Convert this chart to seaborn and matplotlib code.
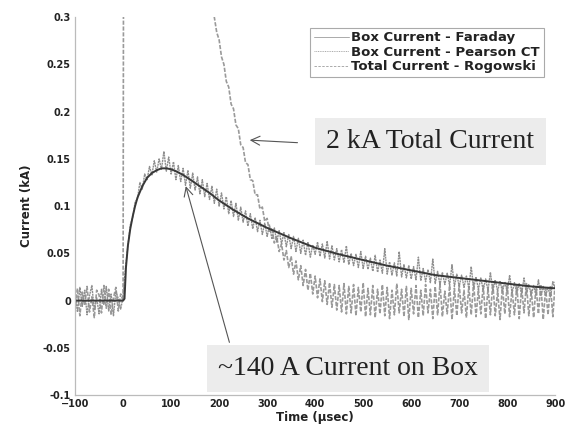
import numpy as np
import pandas as pd
import matplotlib
matplotlib.use('Agg')
import matplotlib.pyplot as plt
from matplotlib.ticker import FuncFormatter
from matplotlib.lines import Line2D
import seaborn as sns

# Time grid of the sampled traces (usec), 5 usec apart
time_us = np.arange(-100, 905, 5)

# Box current - Pearson CT (kA)
pearson_ka = [
    0.008, -0.012, 0.014, -0.006, 0.011, -0.015, 0.005, 0.016, -0.010, 0.003,
    -0.014, 0.012, -0.004, 0.015, -0.011, 0.007, -0.016, 0.010, 0.002, -0.009,
    0.004, 0.035, 0.058, 0.080, 0.088, 0.104, 0.108, 0.125, 0.118, 0.134,
    0.128, 0.142, 0.133, 0.148, 0.136, 0.150, 0.139, 0.158, 0.137, 0.152,
    0.134, 0.147, 0.128, 0.143, 0.126, 0.140, 0.122, 0.138, 0.119, 0.135,
    0.117, 0.131, 0.113, 0.128, 0.110, 0.124, 0.107, 0.121, 0.103, 0.118,
    0.100, 0.114, 0.097, 0.110, 0.092, 0.106, 0.089, 0.103, 0.085, 0.099,
    0.083, 0.095, 0.079, 0.092, 0.076, 0.088, 0.073, 0.085, 0.070, 0.082,
    0.068, 0.080, 0.065, 0.077, 0.062, 0.074, 0.060, 0.072, 0.057, 0.070,
    0.055, 0.068, 0.052, 0.066, 0.050, 0.064, 0.048, 0.062, 0.046, 0.059,
    0.049, 0.062, 0.047, 0.060, 0.045, 0.063, 0.044, 0.058, 0.043, 0.055,
    0.041, 0.054, 0.040, 0.058, 0.038, 0.050, 0.037, 0.049, 0.035, 0.052,
    0.034, 0.047, 0.033, 0.045, 0.031, 0.048, 0.030, 0.043, 0.029, 0.055,
    0.028, 0.041, 0.027, 0.040, 0.026, 0.052, 0.025, 0.038, 0.024, 0.037,
    0.023, 0.036, 0.022, 0.046, 0.021, 0.034, 0.020, 0.033, 0.019, 0.044,
    0.018, 0.031, 0.017, 0.030, 0.017, 0.029, 0.016, 0.038, 0.015, 0.028,
    0.015, 0.027, 0.014, 0.026, 0.013, 0.036, 0.013, 0.025, 0.012, 0.024,
    0.011, 0.023, 0.011, 0.030, 0.010, 0.022, 0.010, 0.021, 0.009, 0.020,
    0.009, 0.027, 0.008, 0.019, 0.008, 0.018, 0.007, 0.024, 0.007, 0.017,
    0.006, 0.016, 0.006, 0.022, 0.005, 0.015, 0.005, 0.014, 0.004, 0.020,
    0.012,
]

# Total current - Rogowski (kA); peaks near 2 kA, off the top of the axes
rogowski_ka = [
    -0.010, 0.013, -0.016, 0.009, -0.005, 0.015, -0.012, 0.004, -0.018, 0.011,
    0.006, -0.013, 0.016, -0.008, 0.012, -0.015, 0.003, 0.014, -0.011, 0.007,
    0.000, 2.00, 1.95, 1.89, 1.82, 1.75, 1.68, 1.61, 1.54, 1.47,
    1.40, 1.33, 1.27, 1.21, 1.15, 1.09, 1.04, 0.99, 0.94, 0.89,
    0.85, 0.81, 0.77, 0.73, 0.69, 0.66, 0.62, 0.59, 0.56, 0.53,
    0.51, 0.48, 0.46, 0.43, 0.41, 0.39, 0.36, 0.33, 0.300, 0.284,
    0.276, 0.258, 0.250, 0.232, 0.226, 0.208, 0.203, 0.186, 0.182, 0.165,
    0.162, 0.146, 0.144, 0.128, 0.127, 0.112, 0.112, 0.097, 0.099, 0.084,
    0.087, 0.072, 0.077, 0.061, 0.068, 0.052, 0.060, 0.043, 0.053, 0.035,
    0.047, 0.028, 0.042, 0.022, 0.037, 0.016, 0.033, 0.011, 0.029, 0.007,
    0.026, 0.003, 0.023, -0.001, 0.021, -0.004, 0.019, -0.007, 0.017, -0.010,
    0.016, -0.012, 0.018, -0.014, 0.015, -0.013, 0.017, -0.016, 0.014, -0.012,
    0.019, -0.017, 0.013, -0.015, 0.016, -0.018, 0.012, -0.014, 0.017, -0.016,
    0.014, -0.019, 0.011, -0.015, 0.018, -0.013, 0.012, -0.017, 0.015, -0.020,
    0.013, -0.014, 0.016, -0.018, 0.011, -0.016, 0.017, -0.013, 0.012, -0.019,
    0.015, -0.015, 0.018, -0.017, 0.010, -0.014, 0.016, -0.020, 0.013, -0.016,
    0.017, -0.013, 0.011, -0.018, 0.015, -0.015, 0.019, -0.017, 0.012, -0.014,
    0.016, -0.019, 0.013, -0.015, 0.018, -0.016, 0.010, -0.020, 0.015, -0.014,
    0.017, -0.017, 0.012, -0.015, 0.016, -0.019, 0.014, -0.013, 0.018, -0.016,
    0.011, -0.018, 0.015, -0.014, 0.017, -0.020, 0.013, -0.015, 0.016, -0.017,
    0.020,
]

# Box current - Faraday (smooth trace)
faraday_us = [-100, 0, 3, 6, 10, 15, 20, 25, 30, 40, 50, 60, 70, 80, 90, 100,
              110, 125, 140, 160, 180, 200, 230, 260, 300, 350, 400, 450, 500,
              550, 600, 650, 700, 750, 800, 850, 900]
faraday_ka = [0.0, 0.0, 0.002, 0.035, 0.058, 0.076, 0.089, 0.100, 0.109, 0.121,
              0.130, 0.135, 0.138, 0.140, 0.140, 0.139, 0.137, 0.133, 0.128,
              0.121, 0.114, 0.106, 0.096, 0.087, 0.077, 0.066, 0.056, 0.049,
              0.043, 0.037, 0.032, 0.027, 0.024, 0.021, 0.018, 0.015, 0.013]

y_ticks = [-0.1, -0.05, 0, 0.05, 0.1, 0.15, 0.2, 0.25, 0.3]
x_ticks = list(range(-100, 1000, 100))

sns.set_style('white')
plt.rcParams['font.family'] = ['DejaVu Sans']
plt.rcParams['font.weight'] = 'bold'

fig = plt.figure(figsize=(5.73, 4.29), dpi=100)
ax = fig.add_axes([0.131, 0.079, 0.838, 0.881])

sns.lineplot(x=time_us, y=rogowski_ka, ax=ax, color='#9a9a9a', lw=1.2,
             linestyle=(0, (2.5, 1)), estimator=None, sort=False)
sns.lineplot(x=time_us, y=pearson_ka, ax=ax, color='#8f8f8f', lw=1.0,
             linestyle=(0, (1.5, 0.5)), estimator=None, sort=False)
sns.lineplot(x=faraday_us, y=faraday_ka, ax=ax, color='#383838', lw=1.4,
             estimator=None, sort=False)

ax.set_xlim(-100, 900)
ax.set_ylim(-0.1, 0.3)
ax.set_xticks(x_ticks)
ax.set_yticks(y_ticks)
ax.yaxis.set_major_formatter(FuncFormatter(lambda v, p: '%g' % round(v, 3)))
ax.tick_params(direction='in', length=4, color='#aaaaaa', labelsize=7,
               labelcolor='#222222', pad=3)
for lab in ax.get_xticklabels() + ax.get_yticklabels():
    lab.set_fontweight('bold')
for side in ['top', 'right']:
    ax.spines[side].set_visible(False)
for side in ['left', 'bottom']:
    ax.spines[side].set_color('#bbbbbb')
    ax.spines[side].set_linewidth(0.9)

ax.set_xlabel('Time (\u00b5sec)', fontsize=8.5, fontweight='bold', color='#222222', labelpad=1)
ax.set_ylabel('Current (kA)', fontsize=8.5, fontweight='bold', color='#222222', labelpad=7)

# legend with thin light handles, as in the reference
handles = [Line2D([], [], color='#aaaaaa', lw=0.7),
           Line2D([], [], color='#aaaaaa', lw=0.7, linestyle=(0, (1, 0.8))),
           Line2D([], [], color='#aaaaaa', lw=0.7, linestyle=(0, (2.5, 1.5)))]
labels = ['Box Current - Faraday', 'Box Current - Pearson CT',
          'Total Current - Rogowski']
leg = ax.legend(handles, labels, loc='upper right', bbox_to_anchor=(0.99, 0.99),
                fancybox=False, edgecolor='#aaaaaa', framealpha=1,
                handlelength=2.6, handletextpad=0.2, borderpad=0.3,
                labelspacing=0.1,
                prop={'family': 'DejaVu Sans', 'weight': 'bold', 'size': 9.5})
leg.get_frame().set_linewidth(0.8)
for t in leg.get_texts():
    t.set_color('#222222')

# annotations
serif = ['Liberation Serif', 'DejaVu Serif']
box = dict(boxstyle='square,pad=0.4', facecolor='#ececec', edgecolor='none')
arrow = dict(arrowstyle='->', color='#555555', lw=0.8, mutation_scale=16)

ax.text(640, 0.168, '2 kA Total Current', ha='center', va='center',
        fontsize=20, family=serif, fontweight='normal', color='#222222', bbox=box)
ax.annotate('', xy=(258, 0.170), xytext=(369, 0.167), arrowprops=arrow)

ax.text(469, -0.072, '~140 A Current on Box', ha='center', va='center',
        fontsize=20, family=serif, fontweight='normal', color='#222222', bbox=box)
ax.annotate('', xy=(129, 0.124), xytext=(223, -0.047), arrowprops=arrow)

fig.savefig('out.png', dpi=100, facecolor='white')
